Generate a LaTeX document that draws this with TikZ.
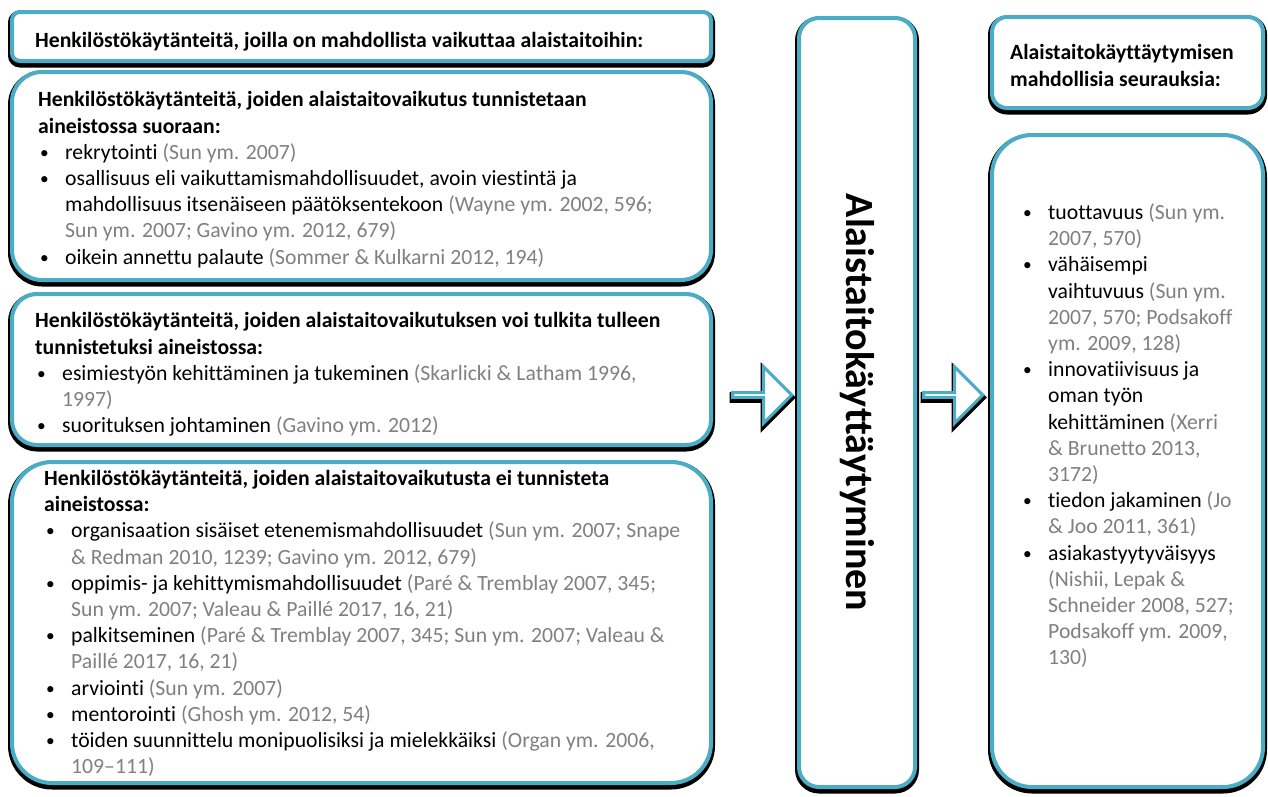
\documentclass[tikz,border=0pt]{standalone}
\usepackage{fontspec}
\setmainfont{Carlito}[Ligatures={TeX,NoCommon}]
\usetikzlibrary{shapes.arrows}
\definecolor{boxteal}{RGB}{75,172,198}
\definecolor{citegray}{RGB}{128,128,128}
\newcommand{\cit}[1]{\textcolor{citegray}{#1}}
\newcommand{\bul}{\makebox[27pt][l]{\hspace*{2pt}\raisebox{1pt}{\scalebox{0.8}{\textbullet}}}}
\newcommand{\ind}{\hspace*{27pt}}
\tikzset{
  panel/.style={draw=boxteal, line width=4pt, fill=white, rounded corners=#1, inner sep=0pt,
    preaction={draw=black, line width=8pt, transform canvas={yshift=-2.5pt}}},
  flow/.style={single arrow, draw=boxteal, line width=3pt, fill=white, inner sep=0pt,
    minimum height=59pt, minimum width=56pt, single arrow head extend=16pt,
    preaction={draw=black, line width=6pt, transform canvas={yshift=-2.5pt}}},
  txt/.style={anchor=north west, align=left, inner sep=0pt, font=\fontsize{21.7}{26.2}\selectfont}
}
\begin{document}
\begin{tikzpicture}[x=1pt,y=-1pt]
            \useasboundingbox (0,0) rectangle (1268,796);
            \node [panel=8pt, minimum width=699pt, minimum height=49pt] (b1) at (361.5,36.5) {};
            \node [panel=30pt, minimum width=699pt, minimum height=208pt] (b2) at (361.5,176) {};
            \node [panel=25pt, minimum width=699pt, minimum height=151pt] (b3) at (361.5,369.5) {};
            \node [panel=40pt, minimum width=699pt, minimum height=321pt] (b4) at (361.5,622.5) {};
            \node [panel=20pt, minimum width=116pt, minimum height=769pt] (mid) at (857,402.5) {};
            \node [panel=15pt, minimum width=271pt, minimum height=91pt] (r1) at (1127.5,62.5) {};
            \node [panel=40pt, minimum width=271pt, minimum height=652pt] (r2) at (1127.5,461) {};
            \node [flow] (arrl) at (761,395) {};
            \node [flow] (arrr) at (952,395) {};
            \node [rotate=-90, font=\bfseries\fontsize{40}{40}\selectfont] (midtxt) at (mid) {Alaistaitokäyttäytyminen};
            \node [txt] (b1txt) at (35,32.5) {\textbf{Henkilöstökäytänteitä, joilla on mahdollista vaikuttaa alaistaitoihin:}};
            \node [txt] (b2txt) at (38,91.5) {\textbf{Henkilöstökäytänteitä, joiden alaistaitovaikutus tunnistetaan}\\
              \textbf{aineistossa suoraan:}\\
              \bul rekrytointi \cit{(Sun ym. 2007)}\\
              \bul osallisuus eli vaikuttamismahdollisuudet, avoin viestintä ja\\
              \ind mahdollisuus itsenäiseen päätöksentekoon \cit{(Wayne ym. 2002, 596;}\\
              \ind\cit{Sun ym. 2007; Gavino ym. 2012, 679)}\\
              \bul oikein annettu palaute \cit{(Sommer \& Kulkarni 2012, 194)}};
            \node [txt] (b3txt) at (35,312.5) {\textbf{Henkilöstökäytänteitä, joiden alaistaitovaikutuksen voi tulkita tulleen}\\
              \textbf{tunnistetuksi aineistossa:}\\
              \bul esimiestyön kehittäminen ja tukeminen \cit{(Skarlicki \& Latham 1996,}\\
              \ind\cit{1997)}\\
              \bul suorituksen johtaminen \cit{(Gavino ym. 2012)}};
            \node [txt] (b4txt) at (44,470) {\textbf{Henkilöstökäytänteitä, joiden alaistaitovaikutusta ei tunnisteta}\\
              \textbf{aineistossa:}\\
              \bul organisaation sisäiset etenemismahdollisuudet \cit{(Sun ym. 2007; Snape}\\
              \ind\cit{\& Redman 2010, 1239; Gavino ym. 2012, 679)}\\
              \bul oppimis- ja kehittymismahdollisuudet \cit{(Paré \& Tremblay 2007, 345;}\\
              \ind\cit{Sun ym. 2007; Valeau \& Paillé 2017, 16, 21)}\\
              \bul palkitseminen \cit{(Paré \& Tremblay 2007, 345; Sun ym. 2007; Valeau \&}\\
              \ind\cit{Paillé 2017, 16, 21)}\\
              \bul arviointi \cit{(Sun ym. 2007)}\\
              \bul mentorointi \cit{(Ghosh ym. 2012, 54)}\\
              \bul töiden suunnittelu monipuolisiksi ja mielekkäiksi \cit{(Organ ym. 2006,}\\
              \ind\cit{109--111)}};
            \node [txt, font=\fontsize{21.7}{27.5}\selectfont] (r1txt) at (1010,44) {\textbf{Alaistaitokäyttäytymisen}\\
              \textbf{mahdollisia seurauksia:}};
            \node [txt] (r2txt) at (1021,203.5) {\bul tuottavuus \cit{(Sun ym.}\\
              \ind\cit{2007, 570)}\\
              \bul vähäisempi\\
              \ind vaihtuvuus \cit{(Sun ym.}\\
              \ind\cit{2007, 570; Podsakoff}\\
              \ind\cit{ym. 2009, 128)}\\
              \bul innovatiivisuus ja\\
              \ind oman työn\\
              \ind kehittäminen \cit{(Xerri}\\
              \ind\cit{\& Brunetto 2013,}\\
              \ind\cit{3172)}\\
              \bul tiedon jakaminen \cit{(Jo}\\
              \ind\cit{\& Joo 2011, 361)}\\
              \bul asiakastyytyväisyys\\
              \ind\cit{(Nishii, Lepak \&}\\
              \ind\cit{Schneider 2008, 527;}\\
              \ind\cit{Podsakoff ym. 2009,}\\
              \ind\cit{130)}};
\end{tikzpicture}
\end{document}
